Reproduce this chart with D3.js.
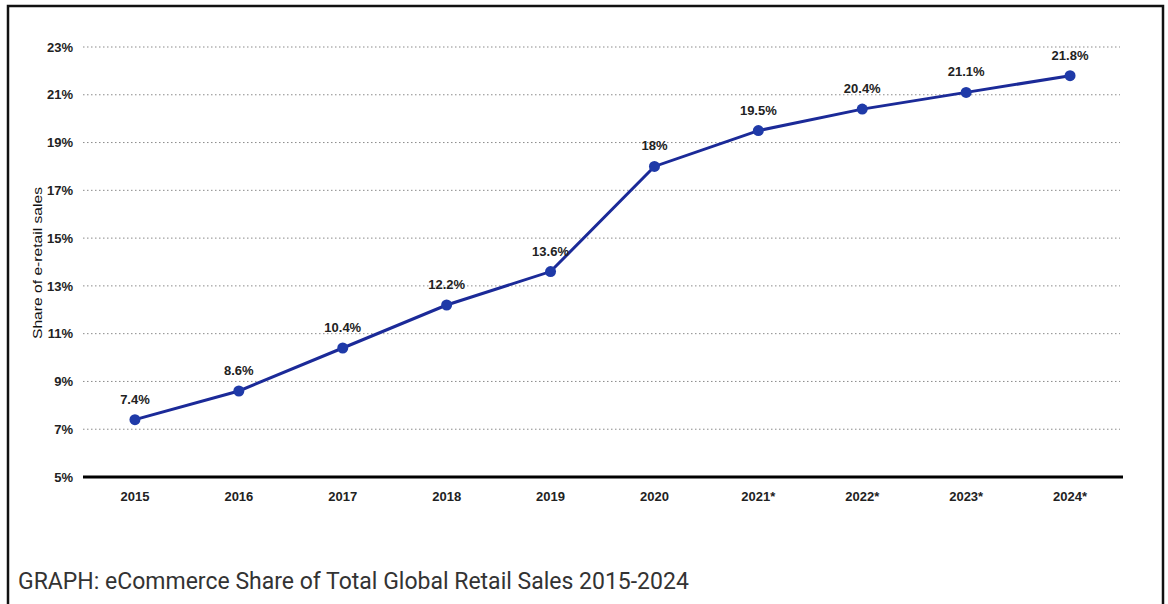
<!DOCTYPE html>
<html>
<head>
<meta charset="utf-8">
<script src="https://cdn.jsdelivr.net/npm/d3@7"></script>
<style>
  body { margin: 0; background: #fff; }
  svg { display: block; }
</style>
</head>
<body>
<script>
// chart data
var years = ["2015", "2016", "2017", "2018", "2019", "2020", "2021*", "2022*", "2023*", "2024*"];
var shares = [7.4, 8.6, 10.4, 12.2, 13.6, 18, 19.5, 20.4, 21.1, 21.8];
var labels = ["7.4%", "8.6%", "10.4%", "12.2%", "13.6%", "18%", "19.5%", "20.4%", "21.1%", "21.8%"];
var yTicks = [5, 7, 9, 11, 13, 15, 17, 19, 21, 23];

var width = 1168,
    height = 604;

var font = "Arial, 'Liberation Sans', sans-serif";

var svg = d3.select("body").append("svg")
    .attr("width", width)
    .attr("height", height);

// frame round the picture
svg.append("rect")
    .attr("x", 8).attr("y", 6)
    .attr("width", 1155).attr("height", 610)
    .attr("fill", "none")
    .attr("stroke", "#111")
    .attr("stroke-width", 2.5);

var x = d3.scaleBand()
    .domain(years)
    .range([83, 1122]);

var y = d3.scaleLinear()
    .domain([5, 23])
    .range([477, 47]);

// y labels
var yAxis = svg.append("g")
    .attr("transform", "translate(83,0)")
    .call(d3.axisLeft(y).tickValues(yTicks).tickSize(0).tickPadding(10)
        .tickFormat(function(d){ return d + "%"; }));
yAxis.select(".domain").remove();
yAxis.selectAll("text")
    .attr("font-family", font)
    .attr("font-size", 13)
    .attr("font-weight", "bold")
    .attr("fill", "#222");

// dotted grid lines
svg.append("g").selectAll("line")
    .data(yTicks.filter(function(d){ return d > 5; }))
  .enter().append("line")
    .attr("x1", 83).attr("x2", 1120)
    .attr("y1", function(d){ return y(d); })
    .attr("y2", function(d){ return y(d); })
    .attr("stroke", "#8a8a8a")
    .attr("stroke-width", 1)
    .attr("stroke-dasharray", "1.5,2.5");

// baseline
svg.append("line")
    .attr("x1", 83).attr("x2", 1123)
    .attr("y1", y(5)).attr("y2", y(5))
    .attr("stroke", "#000")
    .attr("stroke-width", 3);

// x labels
var xAxis = svg.append("g")
    .attr("transform", "translate(0," + y(5) + ")")
    .call(d3.axisBottom(x).tickSize(0).tickPadding(15));
xAxis.select(".domain").remove();
xAxis.selectAll("text")
    .attr("font-family", font)
    .attr("font-size", 13)
    .attr("font-weight", "bold")
    .attr("fill", "#222");

// y axis title
svg.append("text")
    .attr("transform", "translate(42,263) rotate(-90)")
    .attr("text-anchor", "middle")
    .attr("font-family", font)
    .attr("font-size", 12.5)
    .attr("fill", "#111")
    .attr("textLength", 152)
    .attr("lengthAdjust", "spacingAndGlyphs")
    .text("Share of e-retail sales");

var cx = function(d, i){ return x(years[i]) + x.bandwidth() / 2; };

var line = d3.line()
    .x(function(d, i){ return x(years[i]) + x.bandwidth() / 2; })
    .y(function(d){ return y(d); });

svg.append("path")
    .datum(shares)
    .attr("d", line)
    .attr("fill", "none")
    .attr("stroke", "#1b2a98")
    .attr("stroke-width", 3);

svg.append("g").selectAll("circle")
    .data(shares)
  .enter().append("circle")
    .attr("cx", cx)
    .attr("cy", function(d){ return y(d); })
    .attr("r", 5.5)
    .attr("fill", "#1f3aa8");

svg.append("g").selectAll("text")
    .data(shares)
  .enter().append("text")
    .attr("x", cx)
    .attr("y", function(d){ return y(d) - 16; })
    .attr("text-anchor", "middle")
    .attr("font-family", font)
    .attr("font-size", 13)
    .attr("font-weight", "bold")
    .attr("fill", "#222")
    .text(function(d, i){ return labels[i]; });

// caption at the bottom
svg.append("text")
    .attr("x", 18).attr("y", 589)
    .attr("font-family", "Roboto, 'Open Sans', sans-serif")
    .attr("font-size", 23)
    .attr("fill", "#333")
    .text("GRAPH: eCommerce Share of Total Global Retail Sales 2015-2024");
</script>
</body>
</html>
